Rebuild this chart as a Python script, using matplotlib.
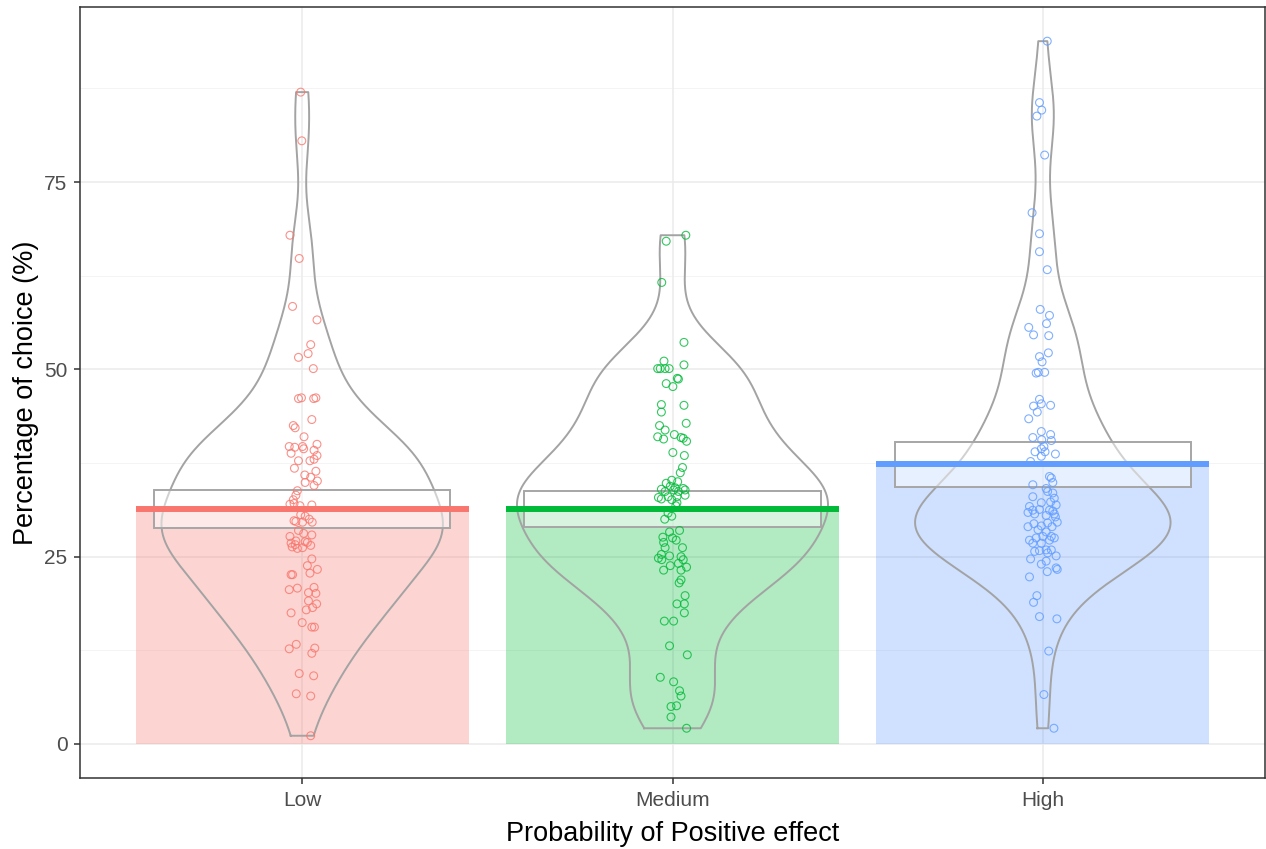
import numpy as np
import matplotlib
matplotlib.use("Agg")
import matplotlib.pyplot as plt
from matplotlib.patches import Rectangle

plt.rcParams["font.family"] = ["Liberation Sans", "DejaVu Sans"]

# ── Data ────────────────────────────────────────────────────────────────────
groups = ["Low", "Medium", "High"]
colors = ["#F8766D", "#00BA38", "#619CFF"]

means = [31.3, 31.3, 37.4]
hdi_lo = [28.8, 29.0, 34.3]
hdi_hi = [33.9, 33.8, 40.3]

low_vals = [87.0, 80.5, 67.9, 64.8, 58.4, 56.6, 53.3, 52.1, 51.6, 50.1,
            46.1, 46.2, 46.1, 46.2, 43.3, 42.5, 42.2, 41.0, 39.7, 39.6,
            39.7, 40.0, 38.8, 39.4, 39.2, 38.5, 37.8, 37.8, 38.0, 36.8,
            36.4, 35.9, 35.6, 35.1, 34.9, 34.5, 33.8, 33.2, 32.6, 32.0,
            32.1, 31.8, 31.9, 30.6, 30.4, 29.8, 30.0, 29.6, 29.6, 29.7,
            28.5, 28.1, 27.9, 27.7, 27.1, 27.0, 26.9, 26.8, 26.6, 26.5,
            26.3, 26.1, 26.2, 24.7, 23.8, 23.3, 22.8, 22.6, 22.6, 20.6,
            20.8, 20.9, 20.2, 20.1, 19.1, 18.7, 18.2, 17.9, 17.5, 16.2,
            15.6, 15.6, 12.7, 13.3, 12.8, 12.1, 9.4, 9.1, 6.7, 6.4, 1.1]
low_jit = [-0.004, -0.001, -0.033, -0.008, -0.026, 0.040, 0.023, 0.016, -0.010, 0.030,
           -0.010, -0.002, 0.031, 0.037, 0.026, -0.024, -0.019, 0.005, -0.035, -0.020,
           0.001, 0.040, -0.030, 0.004, 0.032, 0.040, -0.010, 0.021, 0.032, -0.021,
           0.037, 0.007, 0.023, 0.041, 0.008, 0.032, -0.013, -0.017, -0.024, -0.033,
           -0.022, -0.006, 0.026, -0.004, 0.008, -0.022, 0.019, 0.001, 0.027, -0.017,
           -0.010, 0.004, 0.026, -0.033, -0.017, 0.008, 0.014, -0.030, -0.019, 0.023,
           -0.027, -0.013, 0.001, 0.026, 0.014, 0.041, 0.021, -0.030, -0.026, -0.035,
           -0.013, 0.032, 0.017, 0.037, 0.017, 0.039, 0.028, 0.011, -0.030, 0.000,
           0.026, 0.033, -0.035, -0.016, 0.034, 0.026, -0.008, 0.031, -0.016, 0.023, 0.023]

med_vals = [67.9, 67.1, 61.6, 53.6, 51.1, 50.6, 50.1, 50.1, 50.1, 50.1,
            48.8, 47.7, 48.1, 48.7, 45.3, 45.2, 44.3, 42.8, 42.5, 41.9,
            41.0, 40.7, 41.3, 40.9, 40.8, 40.4, 38.9, 38.5, 36.9, 36.2,
            35.2, 35.0, 34.8, 34.4, 34.2, 34.1, 34.0, 33.9, 33.7, 33.9,
            33.7, 32.9, 32.7, 33.0, 33.0, 33.2, 32.6, 32.2, 31.8, 30.8,
            30.4, 30.0, 28.3, 28.5, 27.6, 27.5, 27.2, 26.9, 26.2, 26.2,
            25.3, 24.8, 24.6, 25.1, 25.0, 24.6, 23.2, 23.8, 24.1, 23.6,
            23.2, 21.9, 21.5, 19.8, 18.7, 18.7, 17.5, 16.4, 16.4, 13.1,
            11.9, 8.9, 8.3, 7.1, 6.4, 5.0, 5.1, 3.6, 2.1]
med_jit = [0.036, -0.017, -0.029, 0.031, -0.023, 0.031, -0.040, -0.033, -0.020, -0.009,
           0.013, 0.001, -0.017, 0.016, -0.030, 0.031, -0.030, 0.037, -0.035, -0.020,
           -0.040, -0.024, 0.005, 0.023, 0.029, 0.038, 0.001, 0.032, 0.027, 0.021,
           -0.002, 0.014, -0.017, -0.006, 0.007, 0.029, -0.030, 0.034, -0.020, 0.003,
           0.016, -0.038, -0.030, -0.012, 0.012, 0.034, -0.002, 0.012, 0.009, -0.012,
           -0.002, -0.021, -0.008, 0.019, -0.026, 0.000, 0.010, -0.024, -0.020, 0.027,
           -0.030, -0.038, -0.029, -0.008, 0.023, 0.029, -0.024, -0.006, 0.016, 0.038,
           0.023, 0.023, 0.018, 0.034, 0.012, 0.032, 0.032, -0.022, 0.003, -0.008,
           0.040, -0.033, 0.003, 0.019, 0.023, -0.004, 0.011, -0.004, 0.038]

high_vals = [93.8, 85.6, 84.6, 83.8, 78.6, 70.9, 68.1, 65.7, 63.3, 58.0,
             57.2, 56.1, 55.6, 54.6, 54.5, 52.2, 51.7, 51.0, 49.5, 49.6,
             49.6, 46.0, 45.1, 45.4, 45.2, 44.3, 43.4, 41.7, 40.9, 41.3,
             40.6, 40.5, 39.7, 39.4, 39.0, 38.7, 39.0, 38.4, 37.7, 35.7,
             35.5, 34.9, 34.6, 34.1, 33.0, 33.7, 33.5, 32.8, 32.2, 32.3,
             31.9, 31.7, 31.2, 31.3, 31.2, 31.1, 30.9, 30.7, 30.7, 30.3,
             30.5, 29.0, 29.4, 29.1, 29.5, 29.0, 29.6, 28.6, 28.3, 27.2,
             27.5, 27.7, 27.7, 27.5, 26.8, 26.8, 27.2, 25.7, 25.8, 25.9,
             25.9, 25.5, 25.1, 24.7, 24.0, 24.4, 23.0, 23.5, 23.3, 22.3,
             19.8, 18.9, 17.0, 16.7, 12.4, 6.6, 2.1]
high_jit = [0.012, -0.009, -0.003, -0.016, 0.005, -0.029, -0.009, -0.009, 0.012, -0.007,
            0.018, 0.010, -0.038, -0.025, 0.016, 0.015, -0.009, -0.002, -0.018, -0.012,
            0.005, -0.009, -0.025, -0.004, 0.021, -0.015, -0.038, -0.004, -0.027, 0.021,
            -0.003, 0.023, 0.003, -0.004, -0.021, 0.034, 0.006, -0.004, -0.033, 0.018,
            0.023, 0.027, -0.027, 0.009, -0.027, 0.013, 0.027, 0.031, -0.004, 0.021,
            0.036, -0.036, -0.027, -0.009, 0.018, 0.027, -0.040, -0.022, 0.031, 0.034,
            0.009, -0.040, -0.024, -0.004, 0.013, 0.025, 0.039, -0.013, 0.009, -0.036,
            -0.018, 0.000, 0.023, 0.031, -0.027, -0.004, 0.018, -0.022, -0.009, 0.009,
            0.023, 0.013, 0.036, -0.033, -0.004, 0.009, 0.012, 0.036, 0.039, -0.036,
            -0.016, -0.025, -0.009, 0.038, 0.016, 0.003, 0.030]

values = [low_vals, med_vals, high_vals]
jitter = [low_jit, med_jit, high_jit]

# max half-width of each bean (x units)
bean_width = [0.38, 0.42, 0.345]


def nrd0(x):
    # R's default density bandwidth
    x = np.asarray(x)
    iqr = np.subtract(*np.percentile(x, [75, 25]))
    lo = min(x.std(ddof=1), iqr / 1.34)
    return 0.9 * lo * len(x) ** (-0.2)


def kde(x, grid):
    x = np.asarray(x)
    bw = nrd0(x)
    z = (grid[:, None] - x[None, :]) / bw
    return np.exp(-0.5 * z ** 2).sum(axis=1) / (len(x) * bw * np.sqrt(2 * np.pi))


# ── Figure ──────────────────────────────────────────────────────────────────
fig = plt.figure(figsize=(12.66, 8.49), dpi=100)
ax = fig.add_axes([80 / 1266, 71 / 849, 1185 / 1266, 771 / 849])

ax.set_xlim(0.4, 3.6)
ax.set_ylim(-4.54, 98.36)

for y in [12.5, 37.5, 62.5, 87.5]:
    ax.axhline(y, color="#F2F2F2", lw=0.6, zorder=0)
for y in [0, 25, 50, 75]:
    ax.axhline(y, color="#EBEBEB", lw=1.1, zorder=0)
for x in [1, 2, 3]:
    ax.axvline(x, color="#EBEBEB", lw=1.1, zorder=0)

for i, (name, col) in enumerate(zip(groups, colors)):
    xc = i + 1
    # bar at the mean
    ax.bar(xc, means[i], width=0.9, color=col, alpha=0.3, lw=0, zorder=1)

    # bean outline, cut at the data range
    g = np.linspace(min(values[i]), max(values[i]), 512)
    d = kde(values[i], g)
    half = d / d.max() * bean_width[i]
    bx = np.concatenate([xc - half, (xc + half)[::-1], [xc - half[0]]])
    by = np.concatenate([g, g[::-1], [g[0]]])
    ax.plot(bx, by, color="#A3A3A3", lw=1.4, zorder=2)

    # inference band
    ax.add_patch(Rectangle((xc - 0.4, hdi_lo[i]), 0.8, hdi_hi[i] - hdi_lo[i],
                           facecolor=(1, 1, 1, 0.5), edgecolor="#A6A6A6",
                           lw=1.4, zorder=3))

    # average line
    ax.plot([xc - 0.45, xc + 0.45], [means[i], means[i]], color=col,
            lw=4.3, solid_capstyle="butt", zorder=4)

    # raw points
    ax.scatter(xc + np.asarray(jitter[i]), values[i], s=32, facecolors="none",
               edgecolors=col, linewidths=0.8, alpha=0.8, zorder=5)

ax.set_xticks([1, 2, 3])
ax.set_xticklabels(groups)
ax.set_yticks([0, 25, 50, 75])
ax.tick_params(axis="both", labelsize=15, colors="#333333", labelcolor="#4D4D4D",
               length=4, width=1.1, pad=5)

for s in ax.spines.values():
    s.set_color("#333333")
    s.set_linewidth(1.1)

ax.set_xlabel("Probability of Positive effect", fontsize=19.5, color="black", labelpad=8)
ax.set_ylabel("Percentage of choice (%)", fontsize=19.5, color="black", labelpad=4)

fig.savefig("out.png", dpi=100)
